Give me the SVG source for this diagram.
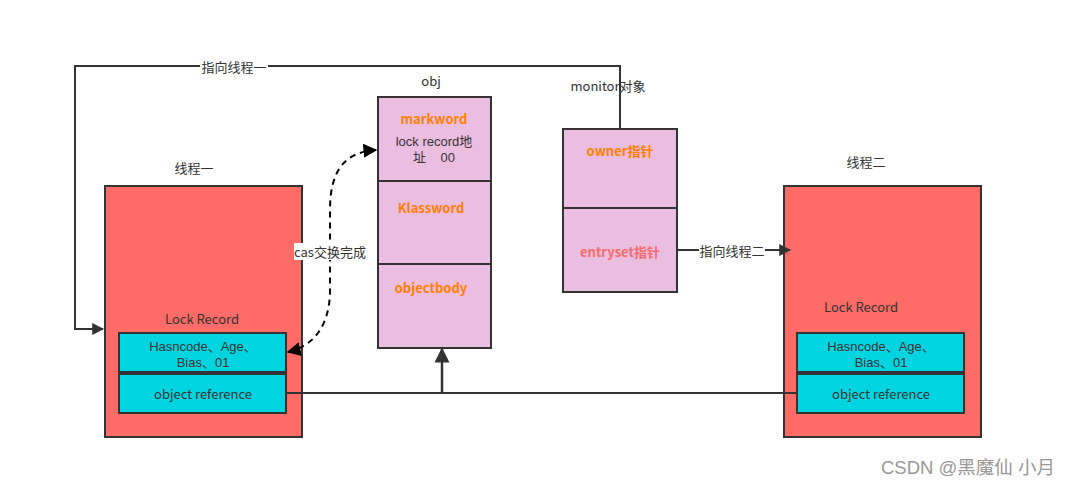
<svg xmlns="http://www.w3.org/2000/svg" width="1071" height="487" viewBox="0 0 1071 487">
<style>
text{font-family:"Noto Sans CJK SC","Liberation Sans",sans-serif;font-size:13px;fill:#333;text-anchor:middle;dominant-baseline:central;white-space:pre}
.sm{font-size:13px;font-family:"Liberation Sans","Noto Sans CJK SC",sans-serif}
.thread{fill:#FF6B66;stroke:#333;stroke-width:2}
.cell{fill:#00D4E0;stroke:#333;stroke-width:2}
.pink{fill:#EBBDE0;stroke:#333;stroke-width:2}
.or{fill:#FF8000;font-weight:bold}
.sal{fill:#F56B6B;font-weight:bold}
.ln{fill:none;stroke:#333;stroke-width:2}
.dash{fill:none;stroke:#000;stroke-width:2;stroke-dasharray:6 5}
.wm{fill:#999;font-size:18.5px;text-anchor:start;font-family:"Liberation Sans","Noto Sans CJK SC",sans-serif}
</style>
<defs>
<marker id="ar" viewBox="0 0 10 10" refX="9" refY="5" markerWidth="6" markerHeight="6" orient="auto-start-reverse" markerUnits="strokeWidth"><path d="M0,0 L10,5 L0,10 z" fill="#333"/></marker>
<marker id="ark" viewBox="0 0 10 10" refX="9" refY="5" markerWidth="7" markerHeight="7" orient="auto-start-reverse" markerUnits="strokeWidth"><path d="M0,0 L10,5 L0,10 z" fill="#000"/></marker>
</defs>
<g id="thread1">
<rect class="thread" x="105" y="186" width="197" height="251"/>
<text x="194" y="167">线程一</text>
<text x="202" y="318">Lock Record</text>
</g>
<g id="t1-header">
<rect class="cell" x="119" y="333" width="167" height="39"/>
<text class="sm" x="203" y="346">Hasncode、Age、</text>
<text class="sm" x="203" y="362">Bias、01</text>
</g>
<g id="t1-ref">
<rect class="cell" x="119" y="374" width="167" height="39"/>
<text x="203" y="393">object reference</text>
</g>
<g id="obj">
<text x="431" y="80">obj</text>
<rect class="pink" x="378" y="97" width="113" height="84"/>
<rect class="pink" x="378" y="181" width="113" height="83"/>
<rect class="pink" x="378" y="264" width="113" height="84"/>
<text class="or" x="434" y="118">markword</text>
<text class="sm" x="434" y="141">lock record地</text>
<text class="sm" x="434" y="157">址    00</text>
<text class="or" x="431" y="207">Klassword</text>
<text class="or" x="431" y="287">objectbody</text>
</g>
<g id="monitor">
<text x="608" y="85">monitor对象</text>
<rect class="pink" x="563" y="129" width="114" height="79"/>
<rect class="pink" x="563" y="208" width="114" height="84"/>
<text class="or" x="620" y="150">owner指针</text>
<text class="sal" x="620" y="251">entryset指针</text>
</g>
<g id="thread2">
<rect class="thread" x="784" y="186" width="197" height="251"/>
<text x="866" y="161">线程二</text>
<text x="861" y="306">Lock Record</text>
</g>
<g id="t2-header">
<rect class="cell" x="797" y="333" width="167" height="39"/>
<text class="sm" x="881" y="346">Hasncode、Age、</text>
<text class="sm" x="881" y="362">Bias、01</text>
</g>
<g id="t2-ref">
<rect class="cell" x="797" y="374" width="167" height="39"/>
<text x="881" y="393">object reference</text>
</g>
<g id="connectors">
<path class="ln" d="M620 129 V66 H75 V329 H103" marker-end="url(#ar)"/>
<rect x="200" y="58" width="68" height="16" fill="#fff"/>
<text x="234" y="66">指向线程一</text>
<path class="ln" d="M677 250 H790" marker-end="url(#ar)"/>
<rect x="699" y="242" width="66" height="16" fill="#fff"/>
<text x="732" y="250">指向线程二</text>
<path class="ln" d="M286 393 H797"/>
<path class="ln" d="M442 393 V349" marker-end="url(#ar)" style="stroke-width:2.5"/>
<path class="dash" d="M288 352 C318 345 330 320 330 290 L330 210 C330 170 345 152 376 150" marker-start="url(#ark)" marker-end="url(#ark)"/>
<rect x="294" y="243" width="72" height="17" fill="#fff"/>
<text x="330" y="251">cas交换完成</text>
</g>
<text class="wm" x="881" y="467">CSDN @黑魔仙 小月</text>
</svg>
